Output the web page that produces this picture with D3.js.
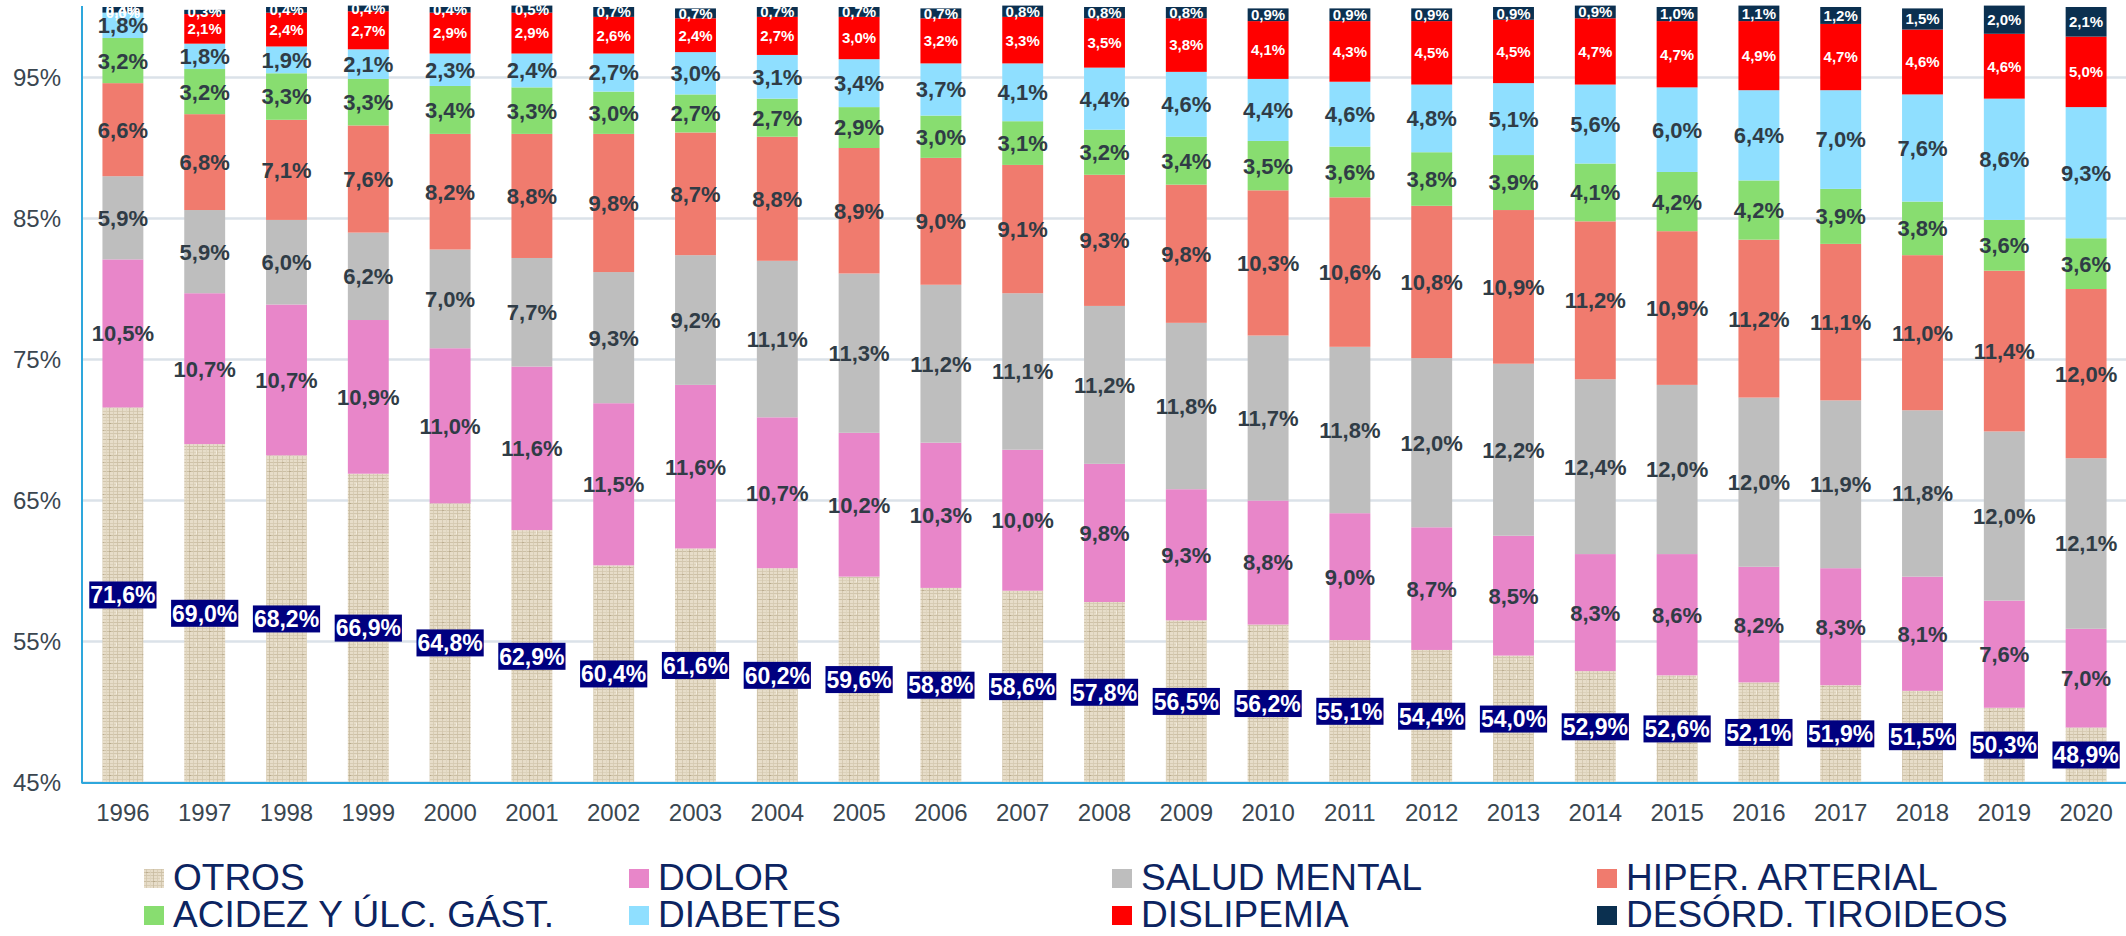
<!DOCTYPE html>
<html>
<head>
<meta charset="utf-8">
<script src="https://cdn.jsdelivr.net/npm/d3@7"></script>
<style>
  body { margin: 0; background: #fff; }
  svg { display: block; font-family: "Liberation Sans", Arial, sans-serif; }
</style>
</head>
<body>
<div id="chart"></div>
<script>
var years = ["1996","1997","1998","1999","2000","2001","2002","2003","2004","2005","2006","2007","2008","2009","2010","2011","2012","2013","2014","2015","2016","2017","2018","2019","2020"];

var otros      = [71.6,69.0,68.2,66.9,64.8,62.9,60.4,61.6,60.2,59.6,58.8,58.6,57.8,56.5,56.2,55.1,54.4,54.0,52.9,52.6,52.1,51.9,51.5,50.3,48.9];
var dolor      = [10.5,10.7,10.7,10.9,11.0,11.6,11.5,11.6,10.7,10.2,10.3,10.0,9.8,9.3,8.8,9.0,8.7,8.5,8.3,8.6,8.2,8.3,8.1,7.6,7.0];
var saludMental= [5.9,5.9,6.0,6.2,7.0,7.7,9.3,9.2,11.1,11.3,11.2,11.1,11.2,11.8,11.7,11.8,12.0,12.2,12.4,12.0,12.0,11.9,11.8,12.0,12.1];
var hiper      = [6.6,6.8,7.1,7.6,8.2,8.8,9.8,8.7,8.8,8.9,9.0,9.1,9.3,9.8,10.3,10.6,10.8,10.9,11.2,10.9,11.2,11.1,11.0,11.4,12.0];
var acidez     = [3.2,3.2,3.3,3.3,3.4,3.3,3.0,2.7,2.7,2.9,3.0,3.1,3.2,3.4,3.5,3.6,3.8,3.9,4.1,4.2,4.2,3.9,3.8,3.6,3.6];
var diabetes   = [1.8,1.8,1.9,2.1,2.3,2.4,2.7,3.0,3.1,3.4,3.7,4.1,4.4,4.6,4.4,4.6,4.8,5.1,5.6,6.0,6.4,7.0,7.6,8.6,9.3];
var dislipemia = [0.0,2.1,2.4,2.7,2.9,2.9,2.6,2.4,2.7,3.0,3.2,3.3,3.5,3.8,4.1,4.3,4.5,4.5,4.7,4.7,4.9,4.7,4.6,4.6,5.0];
var tiroideos  = [0.4,0.3,0.4,0.4,0.4,0.5,0.7,0.7,0.7,0.7,0.7,0.8,0.8,0.8,0.9,0.9,0.9,0.9,0.9,1.0,1.1,1.2,1.5,2.0,2.1];

var yTicks = [45,55,65,75,85,95];

var series = [
  {key:"otros",  name:"OTROS",               values:otros,       color:"url(#linen)"},
  {key:"dolor",  name:"DOLOR",               values:dolor,       color:"#e886c9"},
  {key:"salud",  name:"SALUD MENTAL",        values:saludMental, color:"#bebebe"},
  {key:"hiper",  name:"HIPER. ARTERIAL",     values:hiper,       color:"#f07b6e"},
  {key:"acidez", name:"ACIDEZ Y ÚLC. GÁST.", values:acidez,      color:"#88dd70"},
  {key:"diab",   name:"DIABETES",            values:diabetes,    color:"#8fdfff"},
  {key:"dislip", name:"DISLIPEMIA",          values:dislipemia,  color:"#ff0000"},
  {key:"tiro",   name:"DESÓRD. TIROIDEOS",   values:tiroideos,   color:"#0b3050"}
];

var W = 2126, H = 936;
var plot = {left: 82, right: 2127, top: 7, bottom: 782.5};

var rows = years.map(function(y, i) {
  var r = {year: y};
  series.forEach(function(s) { r[s.key] = s.values[i]; });
  return r;
});

var stack = d3.stack().keys(series.map(function(s){ return s.key; }));
var stacked = stack(rows);

var x = d3.scaleBand().domain(years).range([plot.left, plot.right]).paddingInner(0.5).paddingOuter(0.25);
var y = d3.scaleLinear().domain([45, 100]).range([plot.bottom, plot.top]);

var svg = d3.select("#chart").append("svg")
  .attr("width", W).attr("height", H);

// linen-like texture for OTROS
var defs = svg.append("defs");
var pat = defs.append("pattern").attr("id", "linen")
  .attr("patternUnits", "userSpaceOnUse").attr("width", 20).attr("height", 16);
pat.append("rect").attr("width", 20).attr("height", 16).attr("fill", "#e7ddc9");
var hLines = [[1, "#d3c7ae"], [4, "#dcd1ba"], [7, "#cbbfa4"], [11, "#d8ccb4"], [14, "#cfc2a8"]];
hLines.forEach(function(h) {
  pat.append("rect").attr("x", 0).attr("y", h[0]).attr("width", 20).attr("height", 1).attr("fill", h[1]);
});
var vLines = [[2, "#d2c6ac"], [6, "#ddd3bd"], [9, "#c8bba0"], [13, "#d6cab1"], [17, "#cdc0a6"]];
vLines.forEach(function(v) {
  pat.append("rect").attr("x", v[0]).attr("y", 0).attr("width", 1).attr("height", 16).attr("fill", v[1]).attr("opacity", 0.8);
});
pat.append("rect").attr("x", 9).attr("y", 7).attr("width", 2).attr("height", 1).attr("fill", "#b8aa8c");
pat.append("rect").attr("x", 2).attr("y", 14).attr("width", 2).attr("height", 1).attr("fill", "#bcae91");
pat.append("rect").attr("x", 16).attr("y", 3).attr("width", 1).attr("height", 3).attr("fill", "#f3ecdd");

defs.append("clipPath").attr("id", "plotclip").append("rect")
  .attr("x", plot.left).attr("y", 0).attr("width", W - plot.left).attr("height", plot.bottom);

// gridlines
svg.append("g").selectAll("line")
  .data(yTicks).enter().append("line")
  .attr("x1", plot.left).attr("x2", W)
  .attr("y1", function(d){ return y(d); }).attr("y2", function(d){ return y(d); })
  .attr("stroke", "#dbe2e9").attr("stroke-width", 2.5);

// y tick labels
svg.append("g").selectAll("text")
  .data(yTicks).enter().append("text")
  .attr("x", 61).attr("y", function(d){ return y(d); })
  .attr("dy", "0.36em")
  .attr("text-anchor", "end")
  .attr("font-size", "24px")
  .attr("fill", "#3a4650")
  .text(function(d){ return d + "%"; });

// bars
var layers = svg.append("g").attr("clip-path", "url(#plotclip)")
  .selectAll("g").data(stacked).enter().append("g")
  .attr("fill", function(d, i){ return series[i].color; });

layers.selectAll("rect")
  .data(function(d){ return d; }).enter().append("rect")
  .attr("x", function(d){ return x(d.data.year); })
  .attr("width", x.bandwidth())
  .attr("y", function(d){ return y(d[1]); })
  .attr("height", function(d){ return y(Math.max(d[0], 45)) - y(d[1]); });

// axis lines
svg.append("line").attr("x1", plot.left).attr("x2", plot.left)
  .attr("y1", 6).attr("y2", plot.bottom + 1)
  .attr("stroke", "#2ea7dc").attr("stroke-width", 2);
svg.append("line").attr("x1", plot.left).attr("x2", W)
  .attr("y1", plot.bottom + 0.5).attr("y2", plot.bottom + 0.5)
  .attr("stroke", "#2ea7dc").attr("stroke-width", 2);

// x labels
svg.append("g").selectAll("text")
  .data(years).enter().append("text")
  .attr("x", function(d){ return x(d) + x.bandwidth() / 2; })
  .attr("y", 821)
  .attr("text-anchor", "middle")
  .attr("font-size", "24px")
  .attr("fill", "#3a4650")
  .text(function(d){ return d; });

function fmt(v) { return v.toFixed(1).replace(".", ",") + "%"; }

// data labels, centred in the visible part of each segment
var labels = svg.append("g");
stacked.forEach(function(layer, si) {
  layer.forEach(function(d) {
    var lo = Math.max(d[0], 45);
    var cy = y((lo + d[1]) / 2);
    var cx = x(d.data.year) + x.bandwidth() / 2;
    var key = series[si].key;
    if (key === "otros") {
      var g = labels.append("g");
      var t = g.append("text")
        .attr("x", cx).attr("y", cy).attr("dy", "0.36em")
        .attr("text-anchor", "middle")
        .attr("font-size", "23px").attr("font-weight", "bold")
        .attr("fill", "#fff")
        .text(fmt(d.data.otros));
      var bb = t.node().getBBox();
      g.insert("rect", "text")
        .attr("x", bb.x - 1).attr("y", cy - 13.5)
        .attr("width", bb.width + 2).attr("height", 27)
        .attr("fill", "#000080");
    } else if (key === "dislip" || key === "tiro") {
      labels.append("text")
        .attr("x", cx).attr("y", cy).attr("dy", "0.36em")
        .attr("text-anchor", "middle")
        .attr("font-size", "15px").attr("font-weight", "bold")
        .attr("fill", "#fff")
        .text(fmt(d.data[key]));
    } else {
      labels.append("text")
        .attr("x", cx).attr("y", cy).attr("dy", "0.36em")
        .attr("text-anchor", "middle")
        .attr("font-size", "22px").attr("font-weight", "bold")
        .attr("fill", "#303c46")
        .text(fmt(d.data[key]));
    }
  });
});

// legend
var legendOrder = ["otros","dolor","salud","hiper","acidez","diab","dislip","tiro"];
var colX = [144, 629, 1112, 1597];
var rowY = [890, 927];
var legend = svg.append("g").selectAll("g")
  .data(legendOrder).enter().append("g")
  .attr("transform", function(d, i) {
    return "translate(" + colX[i % 4] + "," + rowY[Math.floor(i / 4)] + ")";
  });
legend.append("rect")
  .attr("x", 0).attr("y", -21).attr("width", 20).attr("height", 19)
  .attr("fill", function(d){ return series.find(function(s){ return s.key === d; }).color; });
legend.append("text")
  .attr("x", 29).attr("y", 0)
  .attr("font-size", "37px")
  .attr("fill", "#0c2461")
  .text(function(d){ return series.find(function(s){ return s.key === d; }).name; });
</script>
</body>
</html>
